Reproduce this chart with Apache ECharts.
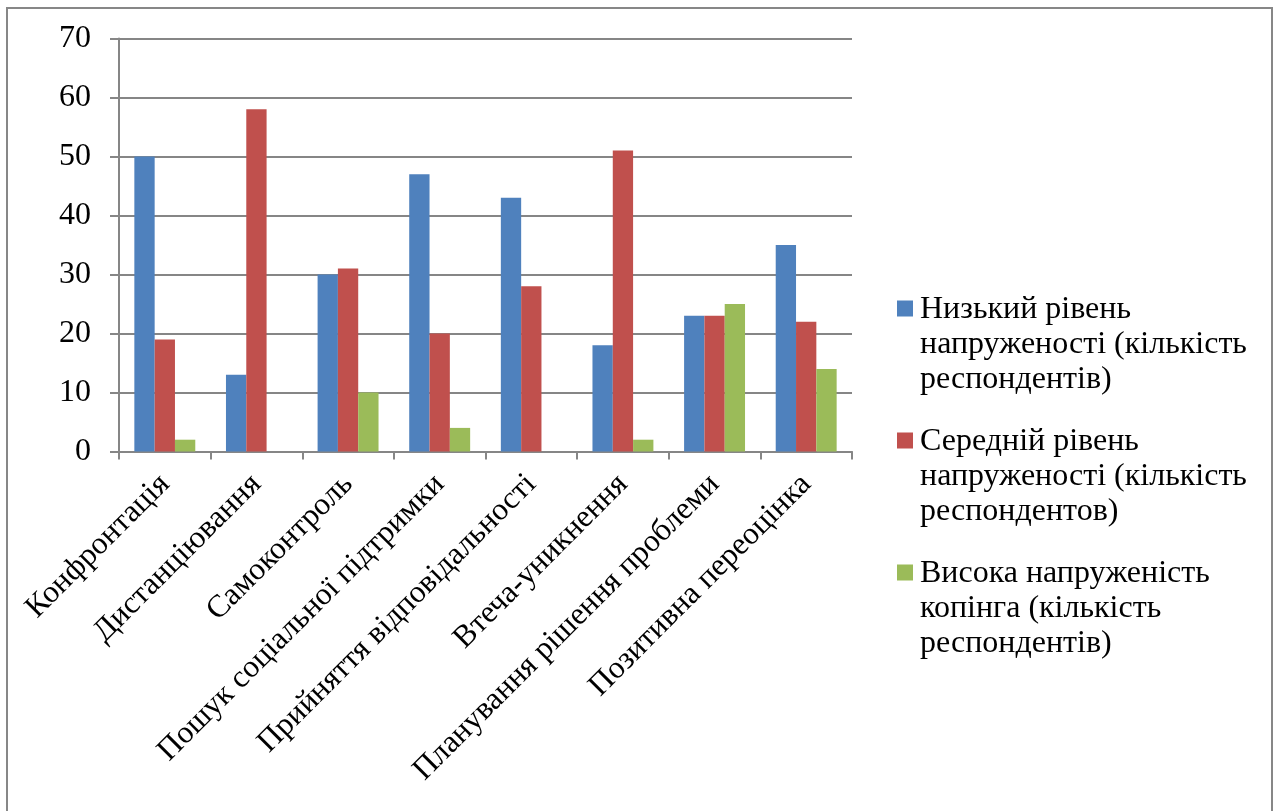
<!DOCTYPE html>
<html>
<head>
<meta charset="utf-8">
<script src="https://cdn.jsdelivr.net/npm/echarts@6/dist/echarts.min.js"></script>
<style>
	html, body { margin: 0; padding: 0; background: #fff; }
	#chart { width: 1277px; height: 811px; }
</style>
</head>
<body>
<div id="chart"></div>
<script>
	// categories (coping strategies)
	var categories = ['Конфронтація', 'Дистанціювання', 'Самоконтроль', 'Пошук соціальної підтримки',
		'Прийняття відповідальності', 'Втеча-уникнення', 'Планування рішення проблеми', 'Позитивна переоцінка']
	var seriesNames = [
		'Низький рівень напруженості (кількість респондентів)',
		'Середній рівень напруженості (кількість респондентов)',
		'Висока напруженість копінга (кількість респондентів)'
	]
	// legend lines as wrapped in the original
	var legendLines = [
		['Низький рівень', 'напруженості (кількість', 'респондентів)'],
		['Середній рівень', 'напруженості (кількість', 'респондентов)'],
		['Висока напруженість', 'копінга (кількість', 'респондентів)']
	]
	var lowValues = [50, 13, 30, 47, 43, 18, 23, 35]
	var midValues = [19, 58, 31, 20, 28, 51, 23, 22]
	var highValues = [2, 0, 10, 4, 0, 2, 25, 14]
	var yTicks = [0, 10, 20, 30, 40, 50, 60, 70]

	var colors = ['#4F81BD', '#C0504D', '#9BBB59']
	var font = "'Liberation Serif', 'Times New Roman', serif"

	var chart = echarts.init(document.getElementById('chart'))
	var values = [lowValues, midValues, highValues]
	var series = []
	for (var i = 0; i < values.length; i++) {
		series.push({
			name: seriesNames[i],
			type: 'bar',
			barGap: '0%',
			barCategoryGap: '33.5%',
			itemStyle: { color: colors[i] },
			data: values[i]
		})
	}

	var option = {
		animation: false,
		color: colors,
		graphic: [{
			type: 'rect',
			shape: { x: 7, y: 8, width: 1265, height: 830 },
			style: { fill: 'none', stroke: '#878787', lineWidth: 2 },
			silent: true
		}],
		legend: {
			orient: 'vertical',
			left: 897,
			top: 292,
			padding: 0,
			itemWidth: 16,
			itemHeight: 105,
			itemGap: 27,
			// square drawn near the top of a tall box so it sits on the first line
			icon: 'path://M0,0 L0.01,0 L0.01,0.01 L0,0.01 Z M0,8.5 L16,8.5 L16,24.5 L0,24.5 Z M0,104.99 L0.01,104.99 L0.01,105 L0,105 Z',
			data: seriesNames,
			formatter: function (name) {
				return legendLines[seriesNames.indexOf(name)].join('\n')
			},
			textStyle: {
				fontFamily: font,
				fontSize: 32,
				lineHeight: 35,
				padding: [0, 0, 0, 2],
				color: '#000'
			}
		},
		grid: {
			left: 119,
			right: 425,
			top: 38.5,
			bottom: 359.5,
			containLabel: false
		},
		xAxis: {
			type: 'category',
			data: categories,
			axisLine: { lineStyle: { color: '#868686', width: 2 } },
			axisTick: { show: true, length: 8, lineStyle: { color: '#868686', width: 2 } },
			axisLabel: {
				rotate: 45,
				interval: 0,
				margin: 28,
				fontFamily: font,
				fontSize: 31.5,
				color: '#000'
			}
		},
		yAxis: {
			type: 'value',
			min: yTicks[0],
			max: yTicks[yTicks.length - 1],
			interval: 10,
			axisLine: { show: true, lineStyle: { color: '#868686', width: 2 } },
			axisTick: { show: true, inside: false, length: 9, lineStyle: { color: '#868686', width: 2 } },
			splitLine: { show: true, lineStyle: { color: '#868686', width: 2 } },
			axisLabel: {
				margin: 28,
				fontFamily: font,
				fontSize: 32,
				color: '#000'
			}
		},
		series: series
	}
	chart.setOption(option)
</script>
</body>
</html>
